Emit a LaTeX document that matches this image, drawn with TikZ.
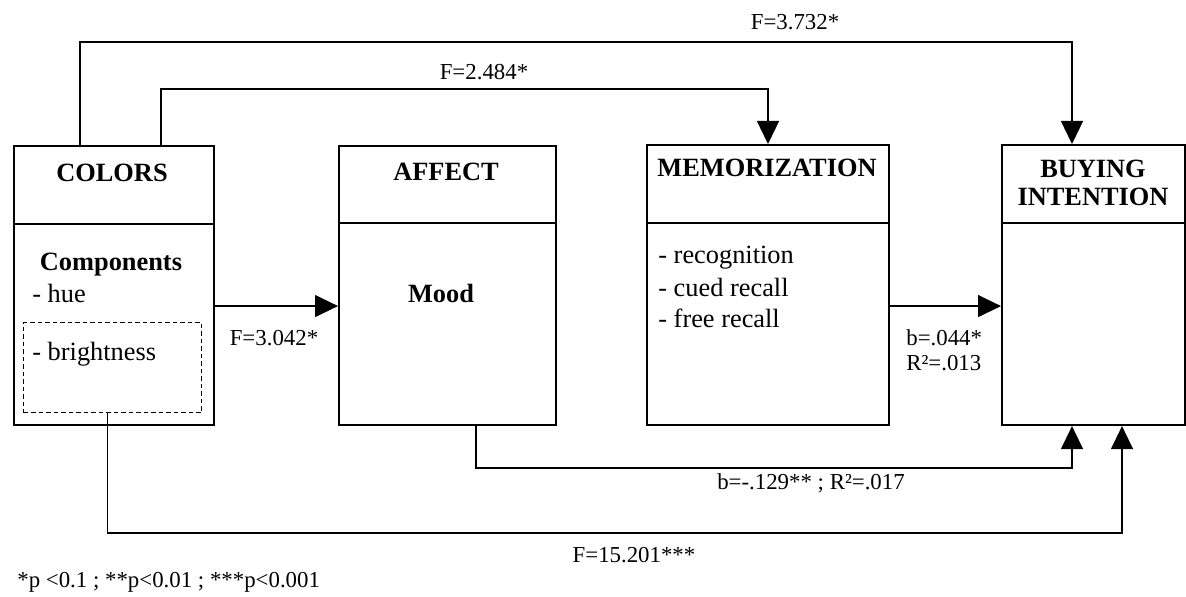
\documentclass[tikz,border=0pt]{standalone}
\usepackage{fontspec}
\setmainfont{Liberation Serif}
\usetikzlibrary{
  arrows.meta,
  calc
}
\tikzset{
  % Model boxes
  modelbox/.style = {draw, line width=1.2pt, anchor=north west, inner sep=0pt},
  dashbox/.style  = {draw, dash pattern=on 0.9mm off 0.6mm, line width=0.6pt, anchor=north west, inner sep=0pt},
  divline/.style  = {line width=0.7pt},
  % Texts
  title/.style    = {font=\fontsize{15}{16}\selectfont\bfseries, align=center, inner sep=0pt},
  item/.style     = {font=\fontsize{15}{17}\selectfont, anchor=west, inner sep=0pt},
  lab/.style      = {font=\fontsize{13}{14}\selectfont, inner sep=0pt},
  % Connectors
  arr/.style      = {line width=0.75pt, -{Triangle[length=4.6mm,width=4.4mm]}},
}

\begin{document}
\begin{tikzpicture}[x=0.2mm, y=-0.2mm]
  \useasboundingbox (0,0) rectangle (1186,597);
  % Boxes
  \node[modelbox, minimum width=40mm,   minimum height=55.8mm] (colors) at (13,145)  {};
  \node[modelbox, minimum width=43.4mm, minimum height=55.8mm] (affect) at (338,145) {};
  \node[modelbox, minimum width=48.4mm, minimum height=56mm]   (memo)   at (646,144) {};
  \node[modelbox, minimum width=36.6mm, minimum height=56mm]   (buying) at (1001,144) {};
  \node[dashbox,  minimum width=35.6mm, minimum height=18mm]   (bright) at (23,322)  {};
  \foreach \b/\d in {colors/79, affect/78, memo/79, buying/79}
    \draw[divline] ($(\b.north west)+(0,\d)$) -- ($(\b.north east)+(0,\d)$);
  % Titles
  \node[title] (colorsT) at (112,173)  {COLORS};
  \node[title] (affectT) at (446,172)  {AFFECT};
  \node[title] (memoT)   at (767,168)  {MEMORIZATION};
  \node[title] (buyingT) at (1093,183) {BUYING\\INTENTION};
  % Box contents
  \node[title] (comp)    at (111,265) {Components};
  \node[item]  (hue)     at (32,293)  {- hue};
  \node[item]  (brightT) at (32,354)  {- brightness};
  \node[title] (mood)    at (441,293) {Mood};
  \node[item]  (recog)   at (658,258) {- recognition};
  \node[item]  (cued)    at (658,287) {- cued recall};
  \node[item]  (free)    at (658,318) {- free recall};
  % Connectors
  \draw[arr] ($(colors.east)+(0,20.5)$) -- ($(affect.west)+(0,20.5)$);
  \draw[arr] ($(memo.east)+(0,21)$) -- ($(buying.west)+(0,21)$);
  \draw[arr] ($(colors.north west)+(67,0)$) -- ++(0,-103) -| ($(buying.north west)+(71,0)$);
  \draw[arr] ($(colors.north west)+(148,0)$) -- ++(0,-56) -| ($(memo.north west)+(122,0)$);
  \draw[arr] ($(affect.south)+(28.5,0)$) -- ++(0,42) -| ($(buying.south west)+(71,0)$);
  \draw[arr] ($(bright.south)+(-5,0)$) -- ++(0,120) -| ($(buying.south west)+(121,0)$);
  % Labels
  \node[lab] (fTop)   at (795,22)  {F=3.732*};
  \node[lab] (fMemo)  at (484,72)  {F=2.484*};
  \node[lab] (fAff)   at (274,338) {F=3.042*};
  \node[lab, anchor=west, align=left] (bMemo) at (906,350) {b=.044*\\R²=.013};
  \node[lab] (bAff)   at (811,483) {b=-.129** ; R²=.017};
  \node[lab] (fBot)   at (634,555) {F=15.201***};
  \node[lab, anchor=west] (note) at (17,582) {*p <0.1 ; **p<0.01 ; ***p<0.001};
\end{tikzpicture}
\end{document}
